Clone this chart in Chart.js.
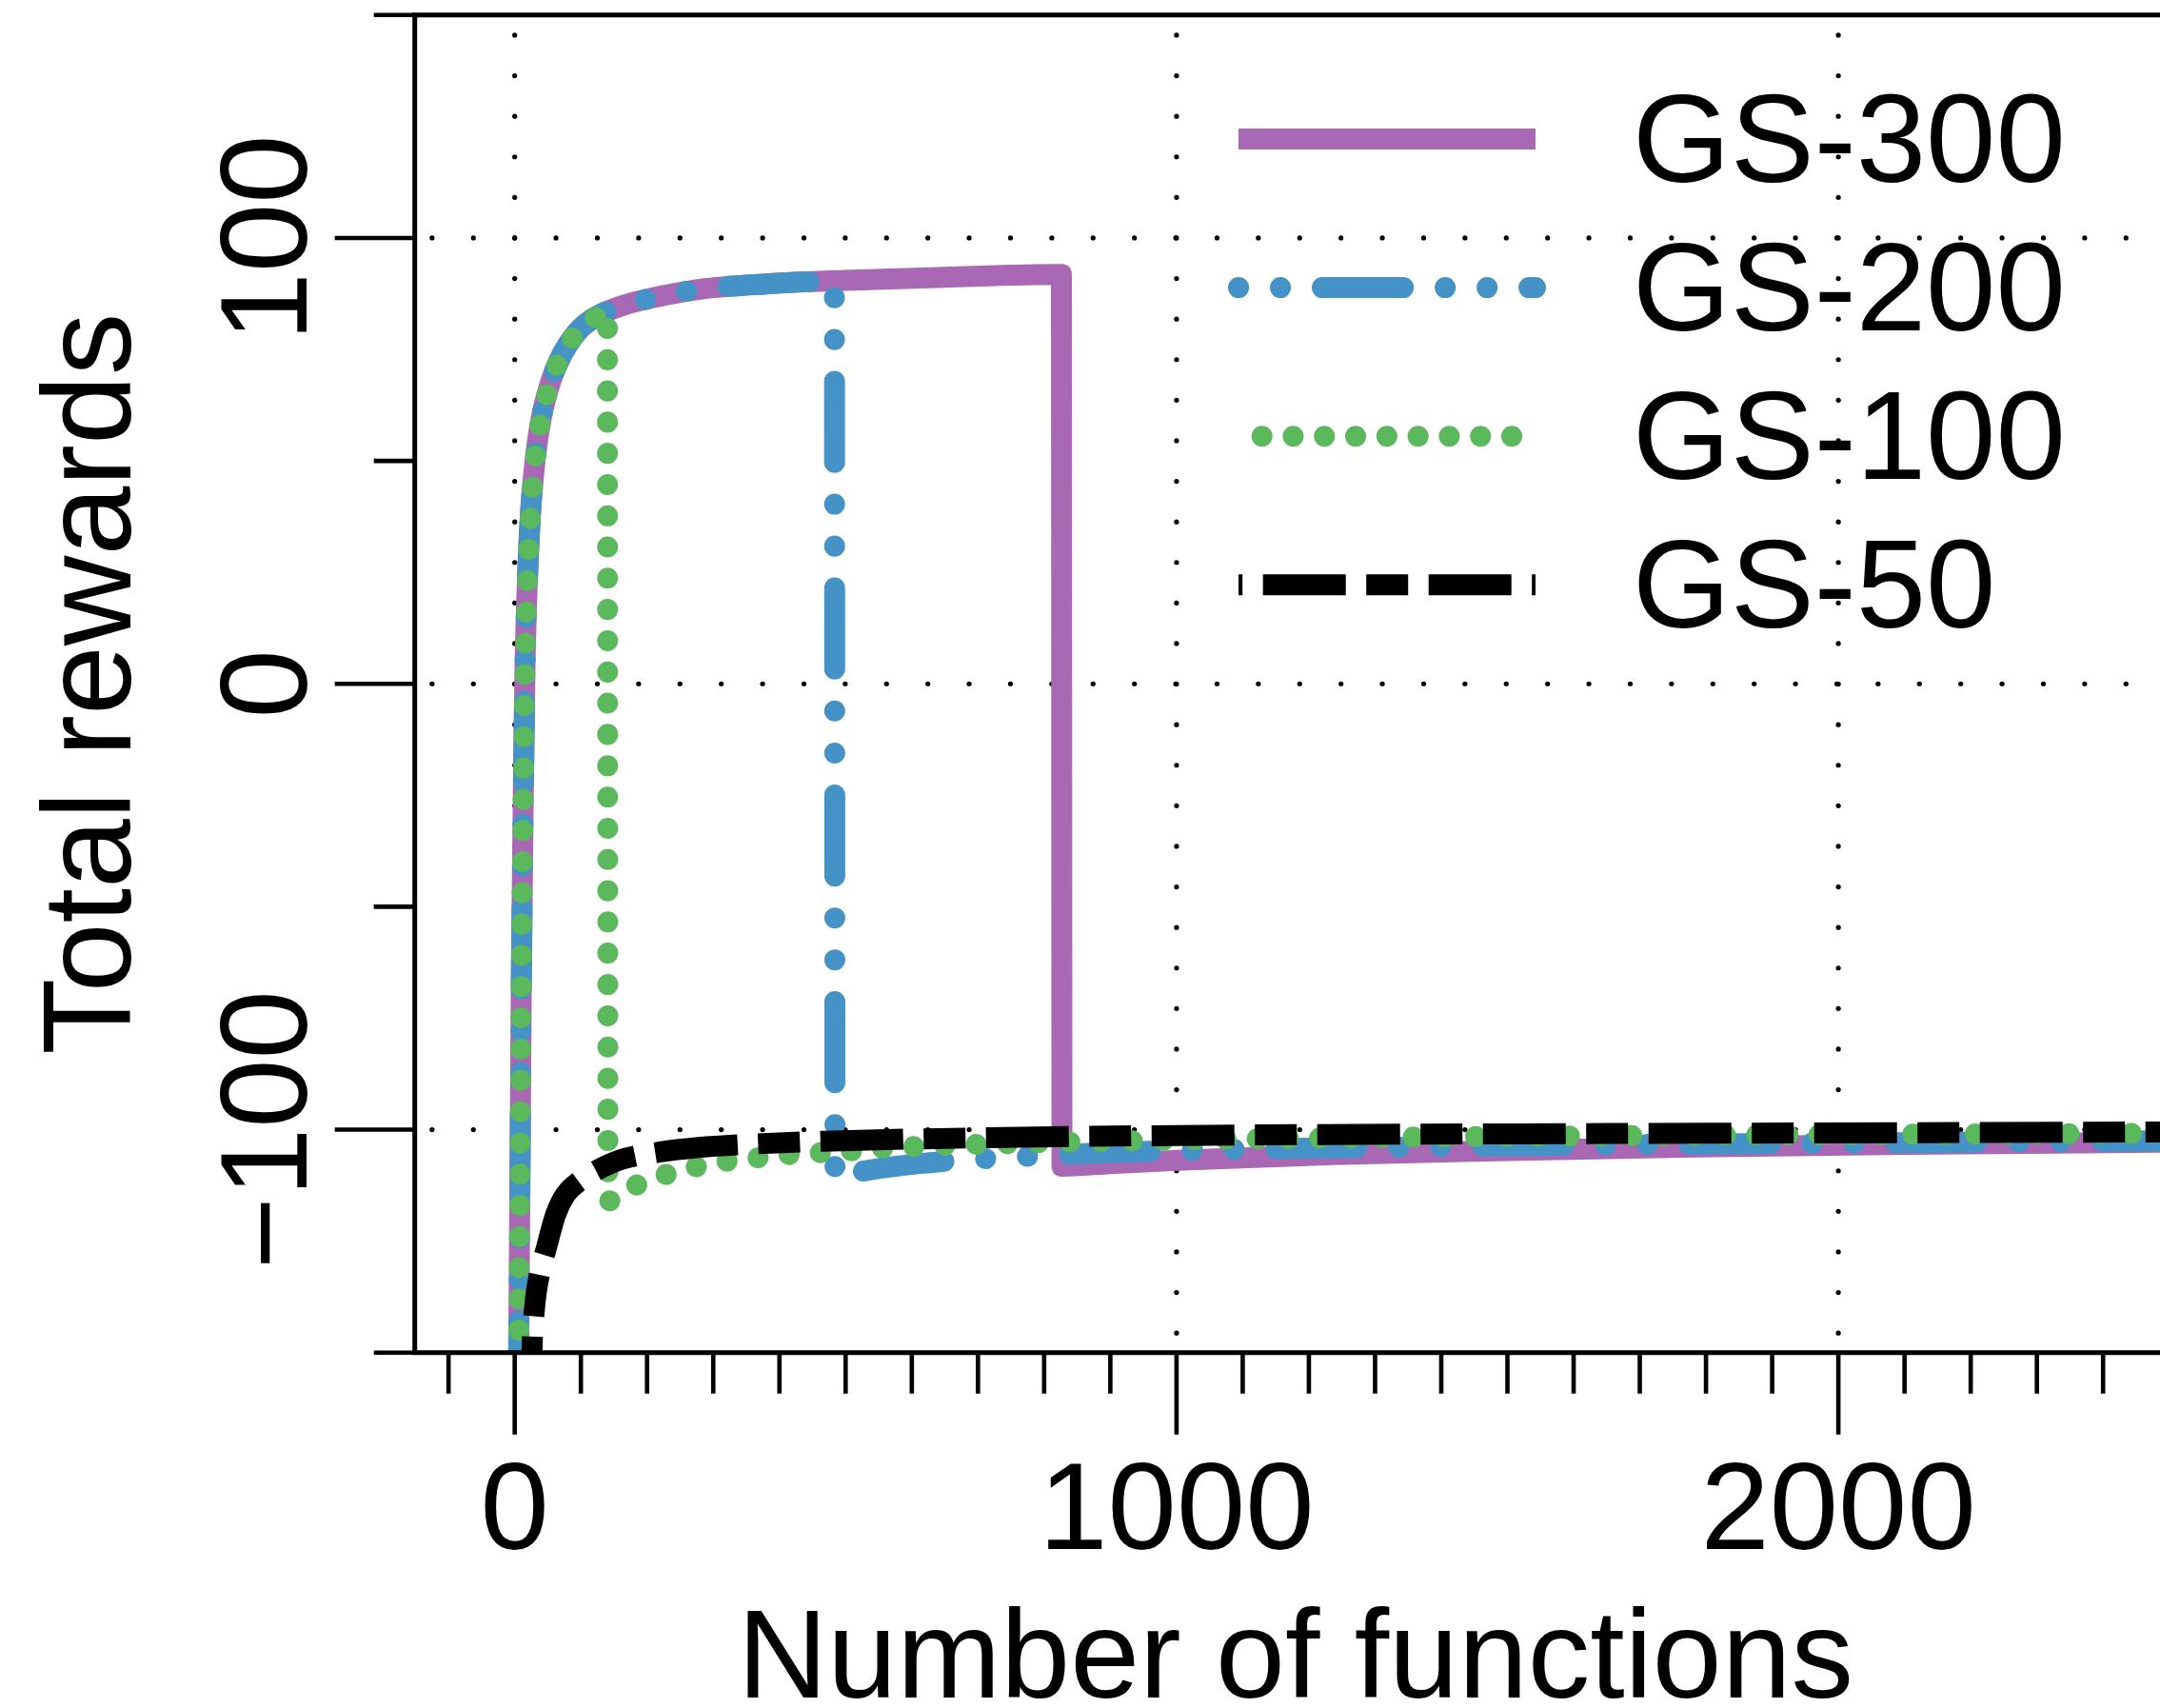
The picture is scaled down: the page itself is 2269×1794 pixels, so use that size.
<!DOCTYPE html>
<html>
<head>
<meta charset="utf-8">
<title>Total rewards vs number of functions</title>
<script src="https://cdn.jsdelivr.net/npm/chart.js@4.4.1/dist/chart.umd.min.js"></script>
<style>
  html, body { margin: 0; padding: 0; background: #fff; overflow: hidden; }
  #wrap { width: 2269px; height: 1794px; }
  canvas { display: block; }
</style>
</head>
<body>
<div id="wrap"><canvas id="rewards" width="2269" height="1794"></canvas></div>
<script>
// --- Data: number of functions (x) vs total rewards (y) ---
const gs300X = [5, 6, 8, 10, 13, 15.5, 18, 23, 28, 34, 40, 47, 56, 67, 80, 100, 125, 160, 200, 280, 380, 500, 650, 826,
                827, 900, 1000, 1236, 1500, 1785, 2100, 2500];
const gs300Y = [-180, -150, -110, -67, -25, 3, 18, 36, 46, 54, 59.5, 64, 68.5, 72.5, 76, 79.8, 82.5, 84.7, 86.3, 88.5, 89.7, 90.5, 91.2, 91.8,
                -108.2, -107.6, -106.9, -105.6, -104.7, -103.9, -103.3, -102.8];

const gs200X = [5, 6, 8, 10, 13, 15.5, 18, 23, 28, 34, 40, 47, 56, 67, 80, 100, 125, 160, 200, 280, 380, 483,
                484, 520, 627, 750, 870, 1100, 1500, 2000, 2500];
const gs200Y = [-180, -150, -110, -67, -25, 3, 18, 36, 46, 54, 59.5, 64, 68.5, 72.5, 76, 79.8, 82.5, 84.7, 86.3, 88.5, 89.7, 90.3,
                -111, -109.5, -107.4, -106.2, -105.3, -104.4, -103.6, -103, -102.5];

const gs100X = [5, 6, 8, 10, 13, 15.5, 18, 23, 28, 34, 40, 47, 56, 67, 80, 100, 125, 140,
                141, 170, 213, 258, 305, 351, 398, 444, 490, 540, 775, 1147, 1600, 2000, 2500];
const gs100Y = [-180, -150, -110, -67, -25, 3, 18, 36, 46, 54, 59.5, 64, 68.5, 72.5, 76, 79.8, 82.5, 83.6,
                -116, -113.4, -110.8, -108.9, -107.4, -106.6, -105.8, -105.3, -105, -104.3, -103, -102, -101.4, -101.1, -100.8];

const gs50X = [24, 26, 30, 38, 47, 62, 77, 100, 123, 159, 220, 278, 350, 466, 715, 1000, 1214, 1800, 2500];
const gs50Y = [-165, -150, -140, -132, -127, -119, -114.5, -111.3, -109.2, -106.8, -105, -104, -103.3, -102.6, -101.8, -101.3, -101.1, -100.8, -100.5];

const seriesNames = ['GS-300', 'GS-200', 'GS-100', 'GS-50'];

// --- Axes ---
const xMinorTicks = [-100, 0, 100, 200, 300, 400, 500, 600, 700, 800, 900, 1000, 1100, 1200, 1300, 1400,
                     1500, 1600, 1700, 1800, 1900, 2000, 2100, 2200, 2300, 2400];
const xLabelValues = [0, 1000, 2000];
const xTickLabels = ['0', '1000', '2000'];
const yMinorTicks = [-150, -100, -50, 0, 50, 100, 150];
const yLabelValues = [100, 0, -100];
const yTickLabels = ['100', '0', '\u2212100'];

const FONT = '"Liberation Sans", Arial, Helvetica, sans-serif';

const pairs = (xs, ys) => xs.map((x, i) => ({ x, y: ys[i] }));

// grid, frame, ticks, titles and legend drawn in the R base-graphics style
const baseAxes = {
    id: 'baseAxes',
    beforeDatasetsDraw(chart) {
        const { ctx, chartArea: a, scales: { x, y } } = chart;
        ctx.save();
        ctx.fillStyle = '#000';
        const dot = (px, py) => { ctx.beginPath(); ctx.arc(px, py, 2.6, 0, Math.PI * 2); ctx.fill(); };

        // dotted grid at the labelled ticks
        const x0 = x.getPixelForValue(0);
        const y0 = y.getPixelForValue(100);
        yLabelValues.forEach(v => {
            const py = y.getPixelForValue(v);
            for (let k = -10; k < 60; k++) {
                const px = x0 + k * 43.4;
                if (px > a.left + 4 && px < a.right + 3) dot(px, py);
            }
        });
        xLabelValues.forEach(v => {
            const px = x.getPixelForValue(v);
            for (let k = -10; k < 40; k++) {
                const py = y0 + k * 42.6;
                if (py > a.top + 4 && py < a.bottom - 4) dot(px, py);
            }
        });
        ctx.restore();
    },
    afterDatasetsDraw(chart) {
        const { ctx, chartArea: a, scales: { x, y } } = chart;
        ctx.save();
        ctx.strokeStyle = '#000';
        ctx.fillStyle = '#000';

        // frame (the right side runs off the canvas)
        ctx.lineWidth = 5;
        ctx.beginPath();
        ctx.moveTo(a.right + 10, a.top);
        ctx.lineTo(a.left, a.top);
        ctx.lineTo(a.left, a.bottom);
        ctx.lineTo(a.right + 10, a.bottom);
        ctx.stroke();

        // ticks
        ctx.lineWidth = 4.6;
        ctx.beginPath();
        xMinorTicks.forEach(v => {
            const px = x.getPixelForValue(v);
            const len = v % 1000 === 0 ? 86 : 43;
            ctx.moveTo(px, a.bottom);
            ctx.lineTo(px, a.bottom + len);
        });
        yMinorTicks.forEach(v => {
            const py = y.getPixelForValue(v);
            const len = v % 100 === 0 ? 84 : 43;
            ctx.moveTo(a.left - len, py);
            ctx.lineTo(a.left, py);
        });
        ctx.stroke();

        // tick labels
        ctx.font = `130px ${FONT}`;
        ctx.textBaseline = 'alphabetic';
        ctx.textAlign = 'center';
        xLabelValues.forEach((v, i) => {
            ctx.fillText(xTickLabels[i], x.getPixelForValue(v), a.bottom + 206);
        });
        yLabelValues.forEach((v, i) => {
            ctx.save();
            ctx.translate(a.left - 114, y.getPixelForValue(v));
            ctx.rotate(-Math.PI / 2);
            ctx.fillText(yTickLabels[i], 0, 0);
            ctx.restore();
        });

        // axis titles
        ctx.font = `131px ${FONT}`;
        ctx.fillText('Number of functions', (a.left + a.right + 17) / 2, a.bottom + 362);
        ctx.save();
        ctx.translate(137, (a.top + a.bottom) / 2);
        ctx.rotate(-Math.PI / 2);
        ctx.fillText('Total rewards', 0, 0);
        ctx.restore();

        // legend
        const lx0 = 1301, lx1 = 1613, textX = 1715, firstY = 146, step = 156.1;
        ctx.font = `132px ${FONT}`;
        ctx.textAlign = 'left';
        seriesNames.forEach((name, i) => {
            const ds = chart.data.datasets.find(d => d.label === name);
            const ly = firstY + i * step;
            ctx.save();
            ctx.strokeStyle = ds.borderColor;
            ctx.lineWidth = ds.borderWidth;
            ctx.lineCap = ds.borderCapStyle;
            ctx.setLineDash(ds.borderDash);
            ctx.lineDashOffset = ds.legendDashOffset;
            ctx.beginPath();
            ctx.moveTo(lx0, ly);
            ctx.lineTo(lx1, ly);
            ctx.stroke();
            ctx.restore();
            ctx.fillText(name, textX, ly + 44.7);
        });
        ctx.restore();
    }
};

const lineBase = {
    borderWidth: 22,
    pointRadius: 0,
    cubicInterpolationMode: 'monotone',
    clip: 0,
    fill: false
};

new Chart(document.getElementById('rewards'), {
    type: 'line',
    data: {
        datasets: [
            { ...lineBase, label: 'GS-300', data: pairs(gs300X, gs300Y), borderColor: '#a968b3',
              borderDash: [], borderCapStyle: 'butt', legendDashOffset: 0, order: 4 },
            { ...lineBase, label: 'GS-200', data: pairs(gs200X, gs200Y), borderColor: '#4592c6',
              borderDash: [0.1, 43.9, 0.1, 43.9, 85.2, 43.9], borderCapStyle: 'round', legendDashOffset: 0, order: 3 },
            { ...lineBase, label: 'GS-100', data: pairs(gs100X, gs100Y), borderColor: '#5cb85c',
              borderDash: [0.1, 32.7], borderCapStyle: 'round', legendDashOffset: 8.2, order: 2 },
            { ...lineBase, label: 'GS-50', data: pairs(gs50X, gs50Y), borderColor: '#000000',
              borderDash: [87, 21.5, 44, 21.5], borderCapStyle: 'butt', legendDashOffset: 148.3, order: 1 }
        ]
    },
    options: {
        responsive: false,
        devicePixelRatio: 1,
        animation: false,
        layout: { padding: { left: 435.7, top: 15.8, right: 0, bottom: 373.3 } },
        scales: {
            x: { type: 'linear', min: -151, max: 2486, display: false },
            y: { type: 'linear', min: -150, max: 150, display: false }
        },
        plugins: { legend: { display: false }, tooltip: { enabled: false } }
    },
    plugins: [baseAxes]
});
</script>
</body>
</html>
